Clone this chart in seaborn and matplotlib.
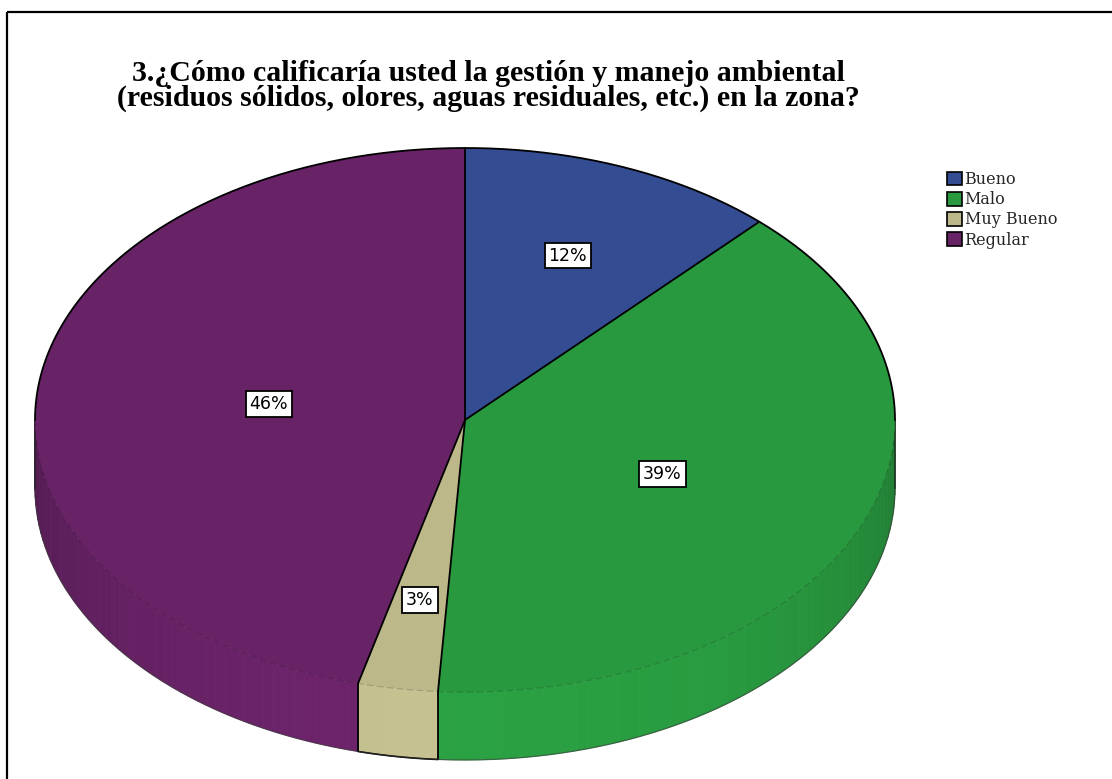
import numpy as np
import matplotlib
matplotlib.use("Agg")
import matplotlib.pyplot as plt
from matplotlib.patches import Patch
import seaborn as sns

# Survey answers and their shares (percent)
categories = ["Bueno", "Malo", "Muy Bueno", "Regular"]
shares = [12, 39, 3, 46]
label_texts = ["12%", "39%", "3%", "46%"]
top_colors = ["#344c91", "#28993f", "#bcb88a", "#682266"]

title = ("3.¿Cómo calificaría usted la gestión y manejo ambiental\n"
         "(residuos sólidos, olores, aguas residuales, etc.) en la zona?")

sns.set_theme(style="white")
plt.rcParams["font.family"] = ["DejaVu Sans"]

W, H = 1112, 779
fig = plt.figure(figsize=(W / 100, H / 100), dpi=100)
ax = fig.add_axes([0, 0, 1, 1])
ax.set_xlim(0, W)
ax.set_ylim(H, 0)
ax.axis("off")

# frame of the chart area
ax.plot([6.5, 6.5], [12, H], color="black", lw=1.6, solid_capstyle="butt")
ax.plot([6.5, W], [12, 12], color="black", lw=1.6, solid_capstyle="butt")

# pie geometry (ellipse seen in perspective with a thickness)
cx, cy, rx, ry, depth = 465, 420, 430, 272, 68
label_radius = [0.65, 0.50, 0.67, 0.46]


def ell(theta_deg, dy=0.0):
    t = np.radians(theta_deg)
    return cx + rx * np.sin(t), cy - ry * np.cos(t) + dy


def scale(hexcol, f):
    rgb = np.array(matplotlib.colors.to_rgb(hexcol))
    return tuple(np.clip(rgb * f, 0, 1))


total = float(sum(shares))
bounds = np.concatenate([[0.0], np.cumsum(shares) / total * 360.0])

# side walls, only the front half (90..270 degrees clockwise from the top)
for i, col in enumerate(top_colors):
    a, b = max(bounds[i], 90.0), min(bounds[i + 1], 270.0)
    if a >= b:
        continue
    steps = np.arange(a, b, 1.5)
    steps = np.append(steps, b)
    for s0, s1 in zip(steps[:-1], steps[1:]):
        th = np.linspace(s0, s1, 4)
        xt, yt = ell(th)
        xb, yb = ell(th[::-1], depth)
        mid = np.radians(0.5 * (s0 + s1))
        front = max(-np.cos(mid), 0.0)
        f = 0.78 + 0.27 * front ** 0.8
        c = scale(col, f)
        ax.fill(np.r_[xt, xb], np.r_[yt, yb], color=c, lw=0.6, ec=c, zorder=2)

# vertical edges of the side walls at slice boundaries
for bd in bounds[1:-1]:
    if 90 < bd < 270:
        x0, y0 = ell(bd)
        ax.plot([x0, x0], [y0, y0 + depth], color="black", lw=1.3, zorder=3)

# outline of the tan wall (thin slice)
th = np.linspace(bounds[2], bounds[3], 20)
xb, yb = ell(th, depth)
ax.plot(xb, yb, color="black", lw=1.2, zorder=3)

# silhouette of the wall
th = np.linspace(90, 270, 300)
xb, yb = ell(th, depth)
ax.plot(xb, yb, color="#3a3a3a", lw=0.9, alpha=0.6, zorder=3)
for side in (90, 270):
    x0, y0 = ell(side)
    ax.plot([x0, x0], [y0, y0 + depth], color="#222222", lw=1.2, alpha=0.8, zorder=3)

# top face wedges
for i, col in enumerate(top_colors):
    th = np.linspace(bounds[i], bounds[i + 1], 200)
    xs, ys = ell(th)
    ax.fill(np.r_[cx, xs], np.r_[cy, ys], color=col, lw=0, zorder=4)

# front rim of the top face: faint darker line
th = np.linspace(90, 270, 300)
xs, ys = ell(th)
ax.plot(xs, ys, color="black", lw=0.8, alpha=0.18, zorder=5, ls=(0, (6, 3)))

# back rim of the top face: black outline
th = np.linspace(-90, 90, 300)
xs, ys = ell(th)
ax.plot(xs, ys, color="black", lw=1.3, zorder=5)

# slice boundaries on the top face
for bd in bounds[:-1]:
    x0, y0 = ell(bd)
    ax.plot([cx, x0], [cy, y0], color="black", lw=1.3, zorder=6)

# percentage labels in white boxes
for i, txt in enumerate(label_texts):
    mid = 0.5 * (bounds[i] + bounds[i + 1])
    t = np.radians(mid)
    lx = cx + label_radius[i] * rx * np.sin(t)
    ly = cy - label_radius[i] * ry * np.cos(t)
    ax.text(lx, ly, txt, ha="center", va="center", fontsize=12.5,
            family="DejaVu Sans", color="black", zorder=8,
            bbox=dict(boxstyle="square,pad=0.22", fc="white", ec="black", lw=1.3))

# title
ax.text(488, 86, title, ha="center", va="center", fontsize=21.5,
        family="Liberation Serif", weight="bold", linespacing=0.86, color="black")

# legend
handles = [Patch(facecolor=c, edgecolor="black", lw=1.2) for c in top_colors]
leg = ax.legend(handles, categories, loc="upper left",
                bbox_to_anchor=(947 / W, 1 - 171 / H), frameon=False,
                prop={"family": "DejaVu Serif", "size": 11.5},
                handlelength=0.95, handleheight=0.95, handletextpad=0.15,
                labelspacing=0.2, borderaxespad=0, borderpad=0)

fig.savefig("out.png", dpi=100, facecolor="white")
